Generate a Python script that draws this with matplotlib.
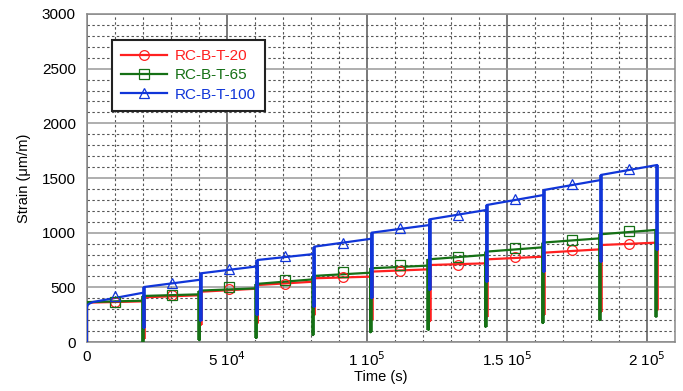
import numpy as np
import matplotlib
matplotlib.use("Agg")
import matplotlib.pyplot as plt
from matplotlib.lines import Line2D
from matplotlib.ticker import MultipleLocator, FixedLocator

plt.rcParams['font.family'] = ['Liberation Sans', 'DejaVu Sans']

# ---------------- data ----------------
series_names = ["RC-B-T-20", "RC-B-T-65", "RC-B-T-100"]
series_colors = ["#ff2020", "#157015", "#1035d8"]
series_markers = ["o", "s", "^"]

# times of unload/reload events (s)
t_jump = [0, 20200, 40400, 60700, 81000, 101500, 122200, 142600, 163000, 183400, 203500]

# strain right after each reload (start of each holding cycle)
red_start = [360, 409, 460, 521, 583, 644, 704, 756, 817, 887]
green_start = [365, 421, 470, 531, 604, 674, 756, 826, 909, 985]
blue_start = [365, 503, 628, 750, 872, 1000, 1122, 1253, 1390, 1528]

# strain at the end of each holding cycle
red_end = [372, 428, 488, 552, 598, 665, 720, 781, 848, 909]
green_end = [378, 436, 491, 573, 634, 699, 796, 866, 948, 1025]
blue_end = [452, 570, 692, 805, 945, 1070, 1208, 1345, 1482, 1619]

# lowest strain reached at each unloading event (t_jump[1:])
red_min = [30, 156, 174, 247, 200, 190, 232, 247, 277, 293]
green_min = [3, 18, 37, 64, 90, 112, 140, 174, 201, 232]
blue_min = [128, 195, 247, 323, 402, 476, 552, 643, 735, 842]

# first-loading ramp of the blue curve
blue_ramp_t = [0, 0, 300, 900, 2000]
blue_ramp_v = [0, 320, 340, 352, 365]

# marker positions
marker_t = [10100, 30300, 50550, 70850, 91250, 111850, 132400, 152800, 173200, 193450]
red_mark = [369, 426, 484, 533, 594, 648, 707, 773, 837, 899]
green_mark = [362, 426, 499, 563, 636, 707, 773, 859, 935, 1011]
blue_mark = [421, 537, 665, 787, 909, 1040, 1162, 1308, 1445, 1580]

xtick_vals = [0, 50000, 100000, 150000, 200000]
xtick_labels = ["0", r"5 10$^4$", r"1 10$^5$", r"1.5 10$^5$", r"2 10$^5$"]
ytick_vals = [0, 500, 1000, 1500, 2000, 2500, 3000]

# ---------------- figure ----------------
fig = plt.figure(figsize=(6.83, 3.91), dpi=100)
ax = fig.add_axes([0.1274, 0.1253, 0.8609, 0.8389])
ax.set_xlim(0, 210000)
ax.set_ylim(0, 3000)

# grid
ax.xaxis.set_major_locator(FixedLocator(xtick_vals))
ax.xaxis.set_minor_locator(MultipleLocator(10000))
ax.yaxis.set_major_locator(FixedLocator(ytick_vals))
ax.yaxis.set_minor_locator(MultipleLocator(100))
ax.grid(which='minor', color='#555555', linestyle=(0, (2.2, 2.2)), linewidth=0.8)
ax.grid(which='major', axis='y', color='#999999', linestyle='-', linewidth=1.1)
ax.grid(which='major', axis='x', color='#555555', linestyle='-', linewidth=1.1)
ax.set_axisbelow(True)
ax.tick_params(which='both', length=0, labelsize=11, pad=6)
ax.tick_params(axis='y', pad=8)
ax.set_xticklabels(xtick_labels)
for s in ax.spines.values():
    s.set_color('#888888')
    s.set_linewidth(1.1)


def build_curve(start, end, vmin, first_t=None, first_v=None):
    xs, ys = [], []
    if first_t is not None:
        xs += list(first_t)
        ys += list(first_v)
    else:
        xs += [t_jump[0], t_jump[0]]
        ys += [0, start[0]]
    n = len(start)
    for k in range(n):
        if k > 0:
            xs += [t_jump[k], t_jump[k]]
            ys += [vmin[k - 1], start[k]]
        xs.append(t_jump[k + 1])
        ys.append(end[k])
    xs += [t_jump[n]]
    ys += [vmin[n - 1]]
    return xs, ys


def drops(end, start, vmin):
    segs = []
    for k in range(len(vmin)):
        top = max(end[k], start[k + 1] if k + 1 < len(start) else end[k])
        segs.append(([t_jump[k + 1], t_jump[k + 1]], [vmin[k], top]))
    return segs


curves = [
    (red_start, red_end, red_min, None, None, red_mark, 150),
    (green_start, green_end, green_min, None, None, green_mark, -250),
    (blue_start, blue_end, blue_min, blue_ramp_t, blue_ramp_v, blue_mark, 150),
]

for i, (st, en, mn, ft, fv, mk, dx) in enumerate(curves):
    c = series_colors[i]
    xs, ys = build_curve(st, en, mn, ft, fv)
    xs = [x + (dx if (x in t_jump[1:]) else 0) for x in xs]
    ax.plot(xs, ys, color=c, lw=1.6, zorder=3 + i * 0.1)
    for (sx, sy) in drops(en, st, mn):
        ax.plot([sx[0] + dx, sx[1] + dx], sy, color=c, lw=2.6, zorder=3 + i * 0.1,
                solid_capstyle='butt')
    ax.plot(marker_t, mk, linestyle='none', marker=series_markers[i], ms=7,
            mfc='none', mec=c, mew=0.9, zorder=4)

ax.set_xlabel("Time (s)", fontsize=10.5, labelpad=1)
ax.set_ylabel("Strain (\u03bcm/m)", fontsize=10.5, labelpad=8)

handles = [Line2D([0], [0], color=series_colors[i], lw=1.6, marker=series_markers[i],
                  ms=7, mfc='none', mec=series_colors[i], mew=0.9)
           for i in range(3)]
leg = ax.legend(handles, series_names, loc='upper left', bbox_to_anchor=(0.0425, 0.921),
                borderaxespad=0, fontsize=11, handlelength=3.0, handletextpad=0.5,
                labelspacing=0.35, borderpad=0.6, fancybox=False, framealpha=1,
                edgecolor='#222222')
leg.get_frame().set_linewidth(1.5)
for t, c in zip(leg.get_texts(), series_colors):
    t.set_color(c)

fig.savefig("out.png", dpi=100)
